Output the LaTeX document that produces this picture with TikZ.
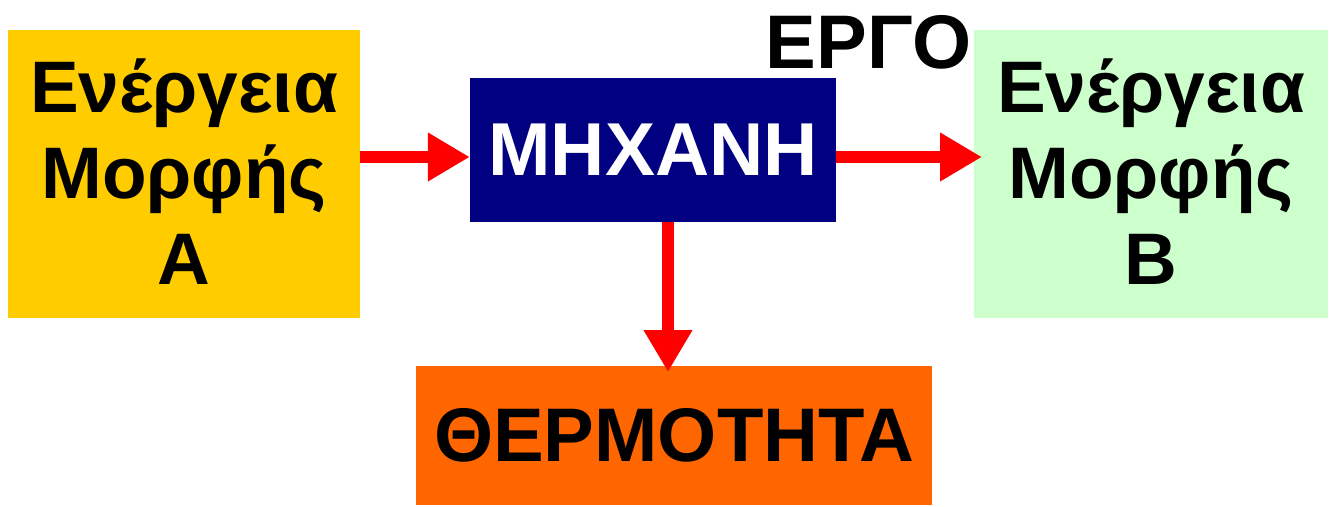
\documentclass[tikz,border=0pt]{standalone}
\usepackage{fontspec}
\setmainfont{Liberation Sans}
\usetikzlibrary{arrows.meta}
\definecolor{boxA}{HTML}{FFCC00}
\definecolor{boxB}{HTML}{CCFFCC}
\definecolor{navy}{HTML}{000080}
\definecolor{heat}{HTML}{FF6600}
\definecolor{arrowred}{HTML}{FF0000}
\begin{document}
\begin{tikzpicture}[x=1pt,y=-1pt,
  box/.style={inner sep=0pt,align=center,font=\fontsize{73}{86}\selectfont\bfseries},
  flow/.style={draw=arrowred,line width=12pt,-{Triangle[length=42pt,width=46pt]}}]
\useasboundingbox (0,0) rectangle (1330,506);
\fill[boxA] (8,30) rectangle (360,318);
\node[box] (A) at (184,172) {Ενέργεια\\Μορφής\\Α};
\fill[boxB] (974,30) rectangle (1328,318);
\node[box] (B) at (1151,172) {Ενέργεια\\Μορφής\\Β};
\node[box,fill=navy,text=white,minimum width=366pt,minimum height=144pt,font=\fontsize{75}{86}\selectfont\bfseries] (M) at (653,150) {ΜΗΧΑΝΗ};
\node[box,fill=heat,minimum width=516pt,minimum height=139pt,font=\fontsize{76}{86}\selectfont\bfseries] (T) at (674,435.5) {ΘΕΡΜΟΤΗΤΑ};
\node[box,font=\fontsize{76}{86}\selectfont\bfseries] (E) at (869,42) {ΕΡΓΟ};
\coordinate (Aout) at (360,157);
\coordinate (Bin) at (982,157);
\draw[flow] (Aout) -- (M.west |- Aout);
\draw[flow] (M.east |- Bin) -- (Bin);
\draw[flow] (668,222) -- (668,372);
\end{tikzpicture}
\end{document}
